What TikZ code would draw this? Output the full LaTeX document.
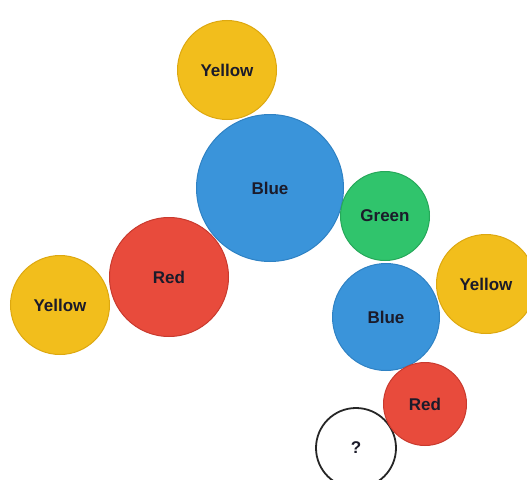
\documentclass[tikz,border=0pt]{standalone}
\usepackage{fontspec}
\setmainfont{Liberation Sans}
\definecolor{cyellow}{HTML}{F2BE1C}
\definecolor{cyellowd}{HTML}{DDA810}
\definecolor{cblue}{HTML}{3A94DA}
\definecolor{cblued}{HTML}{2F82C4}
\definecolor{cgreen}{HTML}{30C46C}
\definecolor{cgreend}{HTML}{26A85A}
\definecolor{cred}{HTML}{E84B3C}
\definecolor{credd}{HTML}{C93A2E}
\definecolor{ctext}{HTML}{1B1B2A}
\begin{document}
\begin{tikzpicture}[x=1pt,y=-1pt,
  ball/.style={circle, inner sep=0pt, line width=1pt, text=ctext, font=\bfseries\fontsize{17}{17}\selectfont},
  yball/.style={ball, fill=cyellow, draw=cyellowd},
  bball/.style={ball, fill=cblue, draw=cblued},
  gball/.style={ball, fill=cgreen, draw=cgreend},
  rball/.style={ball, fill=cred, draw=credd},
  qball/.style={ball, fill=white, draw=black!85, line width=1.8pt}]
\useasboundingbox (0,0) rectangle (527,479);
\node[yball, minimum size=99pt] (y1) at (227,70) {Yellow};
\node[bball, minimum size=147pt] (b1) at (270,188) {Blue};
\node[gball, minimum size=89pt] (g1) at (385,216) {Green};
\node[rball, minimum size=119pt] (r1) at (169,277) {Red};
\node[yball, minimum size=99pt] (y2) at (60,305) {Yellow};
\node[bball, minimum size=107pt] (b2) at (386,317) {Blue};
\node[yball, minimum size=99pt] (y3) at (486,284) {Yellow};
\node[qball, minimum size=80pt] (q) at (356,448) {?};
\node[rball, minimum size=83pt] (r2) at (425,404) {Red};
\end{tikzpicture}
\end{document}
